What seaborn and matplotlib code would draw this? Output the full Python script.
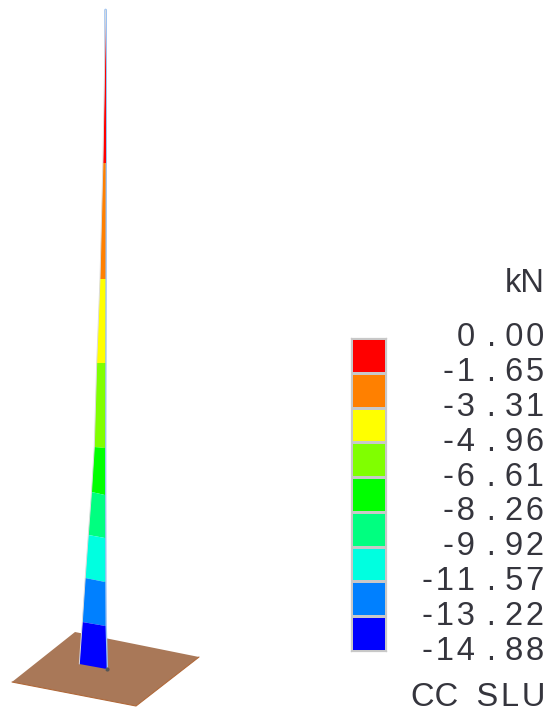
"""Tapered mast force contour with a stepped kN legend."""

import matplotlib.pyplot as plt
import numpy as np
import pandas as pd
import seaborn as sns
from matplotlib.colors import BoundaryNorm, ListedColormap
from matplotlib.transforms import ScaledTranslation

# Legend levels and colours
level_values = [0.00, -1.65, -3.31, -4.96, -6.61, -8.26, -9.92, -11.57, -13.22, -14.88]
level_labels = ["0 . 00", "-1 . 65", "-3 . 31", "-4 . 96", "-6 . 61",
                "-8 . 26", "-9 . 92", "-11 . 57", "-13 . 22", "-14 . 88"]
band_colors = ["#ff0000", "#ff8000", "#ffff00", "#80ff00", "#00ff00",
               "#00ff80", "#00ffe0", "#0080ff", "#0000ff"]

# Mast outline, one entry per band boundary (image pixels)
left_x = [105.6, 102.9, 100.0, 96.7, 94.3, 91.5, 88.3, 85.2, 82.3, 79.3]
left_y = [10, 163, 279, 363, 447, 492, 535, 578, 622, 664]
right_x = [105.6, 105.6, 105.4, 105.2, 105.0, 105.0, 105.1, 105.2, 105.5, 106.7]
right_y = [10, 163, 279, 363, 448, 495, 538, 582, 626, 669]

# Base plate corners
plate_x = [12, 75, 199, 136]
plate_y = [682, 632, 657, 706]

WIDTH, HEIGHT = 552, 716
TEXT_COLOR = "#35353d"
FONT_SIZE = 23.5
HAIR = "\u200a"


def spaced(text):
    """Open up the letter spacing the way the plotted labels have it."""
    return " ".join(HAIR.join(word) for word in text.split(" "))


sns.set_theme(style="white")
plt.rcParams["font.family"] = ["Liberation Sans", "DejaVu Sans"]

fig = plt.figure(figsize=(WIDTH / 100, HEIGHT / 100), dpi=100)
ax = fig.add_axes([0, 0, 1, 1])
ax.set_xlim(0, WIDTH)
ax.set_ylim(HEIGHT, 0)
ax.axis("off")

# Base plate
ax.fill(plate_x, plate_y, color="#a97858", lw=0)
sns.lineplot(x=plate_x[:1] + plate_x[3:] + plate_x[2:3],
             y=plate_y[:1] + plate_y[3:] + plate_y[2:3],
             sort=False, estimator=None, color="#b0693a", lw=0.8, ax=ax)

# Pale line running up the mast, under the bands
sns.lineplot(x=right_x, y=right_y, sort=False, estimator=None,
             color="#9cc2f2", lw=2.0, zorder=2, ax=ax)

# Contour bands
for i, color in enumerate(band_colors):
    ax.fill(
        [left_x[i], right_x[i], right_x[i + 1], left_x[i + 1]],
        [left_y[i], right_y[i], right_y[i + 1], left_y[i + 1]],
        color=color,
        lw=0,
        zorder=3,
    )

# Left edge and base
sns.lineplot(x=left_x, y=left_y, sort=False, estimator=None,
             color="#dcdcdc", lw=0.7, zorder=4, ax=ax)
ax.plot(right_x[-1], right_y[-1], marker="o", ms=2, color="#555555", zorder=5)

# Legend swatches, with the labels on the band boundaries
mids = (np.array(level_values[:-1]) + np.array(level_values[1:])) / 2
legend_df = pd.DataFrame({"kN": mids})
legend_ax = fig.add_axes([351 / WIDTH, 1 - 651 / HEIGHT, 35 / WIDTH, 313 / HEIGHT])
sns.heatmap(
    legend_df,
    ax=legend_ax,
    cmap=ListedColormap(band_colors[::-1]),
    norm=BoundaryNorm(level_values[::-1], len(band_colors)),
    cbar=False,
    linewidths=0.8,
    linecolor="#c8c8c8",
    xticklabels=False,
)
for spine in legend_ax.spines.values():
    spine.set_visible(True)
    spine.set_color("#c8c8c8")
    spine.set_linewidth(0.9)

legend_ax.yaxis.tick_right()
legend_ax.set_yticks(np.arange(len(level_labels)))
legend_ax.set_yticklabels([spaced(s).replace(" .", HAIR + " .") for s in level_labels],
                          rotation=0, ha="right", fontsize=FONT_SIZE, color=TEXT_COLOR)
legend_ax.tick_params(axis="y", length=0, pad=(544 - 386) * 0.72)
legend_ax.set_ylabel("")
legend_ax.set_ylim(len(band_colors), 0)

# Labels sit a few pixels above the boundaries
nudge = ScaledTranslation(0, 3.5 / 100, fig.dpi_scale_trans)
for label in legend_ax.get_yticklabels():
    label.set_transform(label.get_transform() + nudge)

ax.text(545, 283, "kN", ha="right", va="center", fontsize=FONT_SIZE, color=TEXT_COLOR)
ax.text(545, 698, "CC  " + spaced("SLU"), ha="right", va="center",
        fontsize=FONT_SIZE, color=TEXT_COLOR)

plt.savefig("out.png", dpi=100)
plt.close(fig)
